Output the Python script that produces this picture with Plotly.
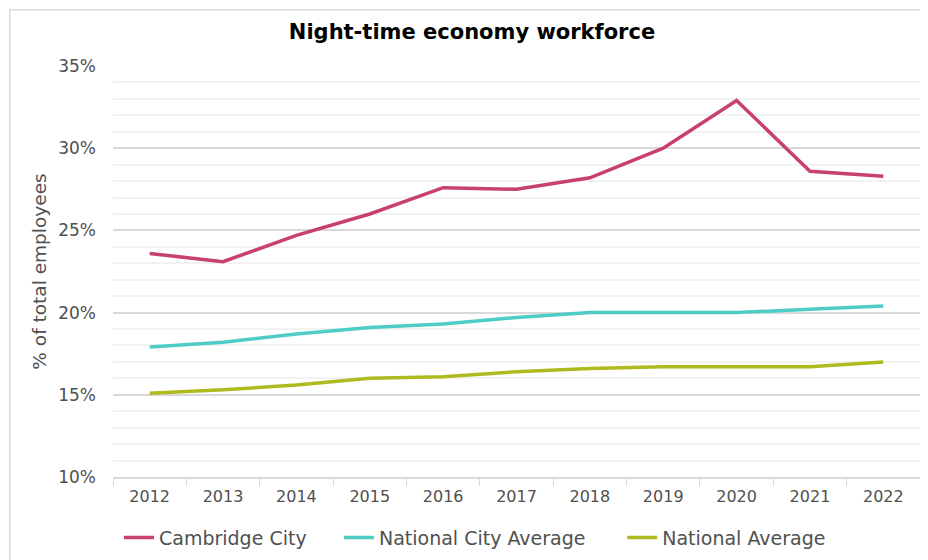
import plotly.graph_objects as go

years = ["2012", "2013", "2014", "2015", "2016", "2017", "2018", "2019", "2020", "2021", "2022"]
cambridge_city = [23.6, 23.1, 24.7, 26.0, 27.6, 27.5, 28.2, 30.0, 32.9, 28.6, 28.3]
national_city_avg = [17.9, 18.2, 18.7, 19.1, 19.3, 19.7, 20.0, 20.0, 20.0, 20.2, 20.4]
national_avg = [15.1, 15.3, 15.6, 16.0, 16.1, 16.4, 16.6, 16.7, 16.7, 16.7, 17.0]

series_names = ["Cambridge City", "National City Average", "National Average"]
colors = ["#C8416C", "#4ECDC6", "#AEBA1E"]

FONT = "DejaVu Sans"
TXT = "#505050"

legend_ids = ["legend", "legend2", "legend3"]
legend_x = [0.0074, 0.280, 0.631]

fig = go.Figure()
for name, vals, col, lid in zip(series_names, [cambridge_city, national_city_avg, national_avg], colors, legend_ids):
    fig.add_trace(go.Scatter(x=years, y=vals, mode="lines", name=name, legend=lid,
                             line=dict(color=col, width=3.5)))

legend_common = dict(orientation="h", xanchor="left", y=-0.145, yanchor="middle",
                     font=dict(size=19, color=TXT), itemwidth=30, bgcolor="rgba(0,0,0,0)")

fig.update_layout(
    width=928, height=560,
    paper_bgcolor="white", plot_bgcolor="white",
    margin=dict(l=105, r=16, t=58, b=90),
    font=dict(family=FONT, color=TXT, size=16),
    title=dict(text="<b>Night-time economy workforce</b>", x=0.5, xanchor="center",
               y=0.957, yanchor="middle",
               font=dict(family=FONT, size=21, color="#000000")),
    showlegend=True,
    legend=dict(x=legend_x[0], **legend_common),
    legend2=dict(x=legend_x[1], **legend_common),
    legend3=dict(x=legend_x[2], **legend_common),
    shapes=[dict(type="rect", xref="paper", yref="paper", x0=-0.128, x1=1.03, y0=-0.3, y1=1.137,
                 line=dict(color="#D9D9D9", width=1.5), layer="below")],
)

fig.update_xaxes(
    type="category", tickson="boundaries", ticks="outside", ticklen=7, tickcolor="#D9D9D9",
    showline=True, linecolor="#D9D9D9", linewidth=1.5, showgrid=False,
    tickfont=dict(size=16, color=TXT), range=[-0.5, 10.5], ticklabelstandoff=4,
)
fig.update_yaxes(
    range=[10, 35], dtick=5, ticksuffix="%", tickformat="d",
    showgrid=True, gridcolor="#D9D9D9", gridwidth=1.5,
    minor=dict(dtick=1, showgrid=True, gridcolor="#F2F2F2", gridwidth=1.5),
    zeroline=False, showline=False, ticks="", ticklabelstandoff=16,
    tickfont=dict(size=17, color=TXT),
    title=dict(text="% of total employees", font=dict(size=18.5, color=TXT), standoff=6),
)

fig.write_html("out.html")
